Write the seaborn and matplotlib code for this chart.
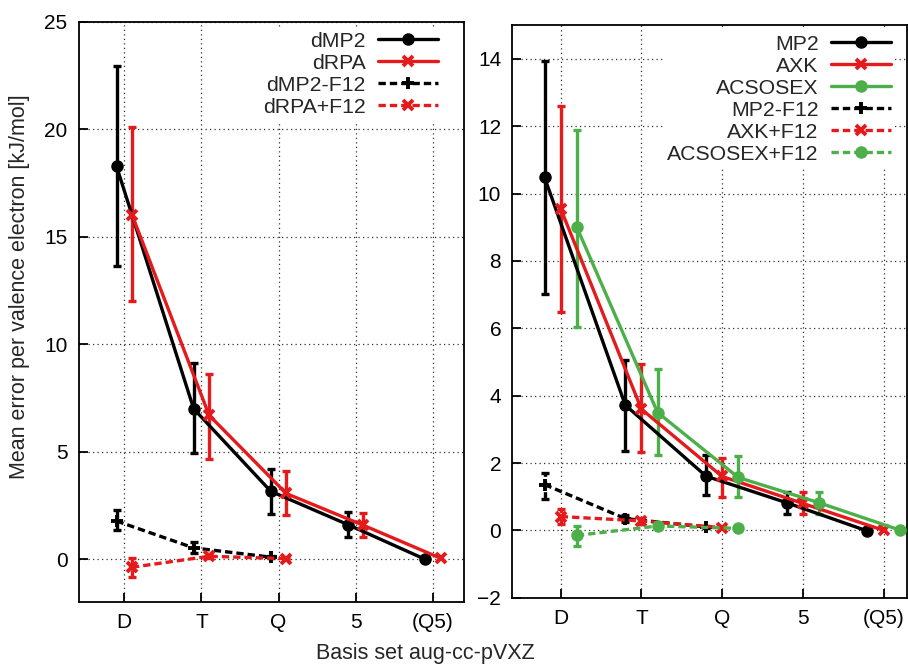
import numpy as np
import pandas as pd
import matplotlib
matplotlib.use("Agg")
import matplotlib.pyplot as plt
import seaborn as sns
from matplotlib.lines import Line2D

basis = ["D", "T", "Q", "5", "(Q5)"]

# Left panel: dMP2 / dRPA
dmp2 = [18.28, 7.0, 3.16, 1.61, 0.0]
dmp2_lo = [13.64, 4.93, 2.12, 1.04]
dmp2_hi = [22.93, 9.15, 4.20, 2.20]
drpa = [16.03, 6.70, 3.06, 1.58, 0.05]
drpa_lo = [12.01, 4.65, 2.05, 1.04]
drpa_hi = [20.08, 8.60, 4.10, 2.17]
dmp2_f12 = [1.78, 0.53, 0.10]
dmp2_f12_lo = [1.35, 0.28, 0.07]
dmp2_f12_hi = [2.28, 0.80, 0.13]
drpa_f12 = [-0.37, 0.14, 0.03]
drpa_f12_lo = [-0.84, 0.05, 0.00]
drpa_f12_hi = [0.05, 0.23, 0.06]

# Right panel: MP2 / AXK / ACSOSEX
mp2 = [10.48, 3.72, 1.61, 0.82, -0.02]
mp2_lo = [7.02, 2.37, 1.05, 0.50]
mp2_hi = [13.95, 5.07, 2.25, 1.13]
axk = [9.55, 3.60, 1.60, 0.80, 0.00]
axk_lo = [6.50, 2.34, 1.00, 0.50]
axk_hi = [12.60, 4.93, 2.15, 1.13]
acsosex = [9.00, 3.50, 1.57, 0.82, 0.01]
acsosex_lo = [6.03, 2.25, 0.98, 0.50]
acsosex_hi = [11.90, 4.78, 2.20, 1.13]
mp2_f12 = [1.36, 0.35, 0.10]
mp2_f12_lo = [0.94, 0.25, 0.08]
mp2_f12_hi = [1.71, 0.45, 0.12]
axk_f12 = [0.41, 0.28, 0.08]
axk_f12_lo = [0.18, 0.20, 0.06]
axk_f12_hi = [0.62, 0.36, 0.10]
acsosex_f12 = [-0.15, 0.13, 0.06]
acsosex_f12_lo = [-0.47, 0.08, 0.04]
acsosex_f12_hi = [0.13, 0.18, 0.08]

BLACK = "#000000"
RED = "#e41a1c"
GREEN = "#4daf4a"
LW = 2.4
DASH = (0, (2.2, 1.2))

sns.set_style("ticks")
plt.rcParams["font.family"] = ["Liberation Sans", "DejaVu Sans"]

fig = plt.figure(figsize=(9.08, 6.68), dpi=100)
W, H = 908, 668


def rect(x0, y0, x1, y1):
    return [x0 / W, 1 - y1 / H, (x1 - x0) / W, (y1 - y0) / H]


ax_l = fig.add_axes(rect(78.7, 21.7, 463.7, 602.3))
ax_r = fig.add_axes(rect(512.3, 25.3, 907.0, 597.7))

MARKERS = {
    "o": dict(marker="o", markersize=9, markeredgewidth=0),
    "x": dict(marker="x", markersize=7, markeredgewidth=2.8),
    "+": dict(marker="+", markersize=8, markeredgewidth=2.8),
}


def draw(ax, values, lo, hi, offset, color, mk, dashed):
    x = np.arange(1, len(values) + 1) + offset
    df = pd.DataFrame({"x": x, "y": values})
    ls = DASH if dashed else "-"
    n = len(lo)
    yv = np.asarray(values[:n])
    eb = ax.errorbar(x[:n], yv, yerr=[yv - np.asarray(lo), np.asarray(hi) - yv],
                     fmt="none", ecolor=color, elinewidth=LW, capsize=3.2,
                     capthick=LW, zorder=3)
    if dashed:
        for coll in eb[2]:
            coll.set_linestyle(DASH)
    sns.lineplot(data=df, x="x", y="y", ax=ax, color=color, linewidth=LW,
                 linestyle=ls, sort=False, errorbar=None, zorder=4,
                 markeredgecolor=color, **MARKERS[mk])


def handle(color, mk, dashed):
    return Line2D([], [], color=color, linewidth=LW,
                  linestyle=DASH if dashed else "-", markeredgecolor=color,
                  **MARKERS[mk])


left_series = [
    ("dMP2", dmp2, dmp2_lo, dmp2_hi, -0.1, BLACK, "o", False),
    ("dRPA", drpa, drpa_lo, drpa_hi, 0.1, RED, "x", False),
    ("dMP2-F12", dmp2_f12, dmp2_f12_lo, dmp2_f12_hi, -0.1, BLACK, "+", True),
    ("dRPA+F12", drpa_f12, drpa_f12_lo, drpa_f12_hi, 0.1, RED, "x", True),
]
right_series = [
    ("MP2", mp2, mp2_lo, mp2_hi, -0.2, BLACK, "o", False),
    ("AXK", axk, axk_lo, axk_hi, 0.0, RED, "x", False),
    ("ACSOSEX", acsosex, acsosex_lo, acsosex_hi, 0.2, GREEN, "o", False),
    ("MP2-F12", mp2_f12, mp2_f12_lo, mp2_f12_hi, -0.2, BLACK, "+", True),
    ("AXK+F12", axk_f12, axk_f12_lo, axk_f12_hi, 0.0, RED, "x", True),
    ("ACSOSEX+F12", acsosex_f12, acsosex_f12_lo, acsosex_f12_hi, 0.2, GREEN, "o", True),
]

for ax, series in ((ax_l, left_series), (ax_r, right_series)):
    for name, v, lo, hi, off, col, mk, dashed in series:
        draw(ax, v, lo, hi, off, col, mk, dashed)

ax_l.set_xlim(0.41, 5.4)
ax_l.set_ylim(-2, 25)
ax_l.set_yticks([0, 5, 10, 15, 20, 25])
ax_r.set_xlim(0.4, 5.29)
ax_r.set_ylim(-2, 15)
ax_r.set_yticks(list(range(-2, 15, 2)))

for ax in (ax_l, ax_r):
    ax.set_xticks(range(1, 6))
    ax.set_xticklabels(basis)
    ax.set_xlabel("")
    ax.set_ylabel("")
    ax.set_axisbelow(True)
    ax.grid(True, linestyle=(0, (1, 2.6)), color="#333333", linewidth=0.9)
    ax.tick_params(direction="in", length=6.5, width=1.3, labelsize=15,
                   pad=8, colors="black")
    for sp in ax.spines.values():
        sp.set_visible(True)
        sp.set_linewidth(1.3)
        sp.set_color("black")

leg_kw = dict(markerfirst=False, numpoints=1, handlelength=2.8,
              handletextpad=0.6, labelspacing=0.14, borderpad=0.2,
              borderaxespad=0, fontsize=15.3, frameon=True,
              facecolor="white", edgecolor="none", framealpha=1,
              fancybox=False, loc="upper right")

ax_l.legend([handle(c, m, d) for _, _, _, _, _, c, m, d in left_series],
            [s[0] for s in left_series], bbox_to_anchor=(0.944, 0.990), **leg_kw)
ax_r.legend([handle(c, m, d) for _, _, _, _, _, c, m, d in right_series],
            [s[0] for s in right_series], bbox_to_anchor=(0.970, 0.991), **leg_kw)

fig.text(20 / W, 1 - 287 / H, "Mean error per valence electron [kJ/mol]",
         rotation=90, ha="center", va="center", fontsize=15.5)
fig.text(425 / W, 1 - 653 / H, "Basis set aug-cc-pVXZ",
         ha="center", va="center", fontsize=15.5)

fig.savefig("out.png", dpi=100)
